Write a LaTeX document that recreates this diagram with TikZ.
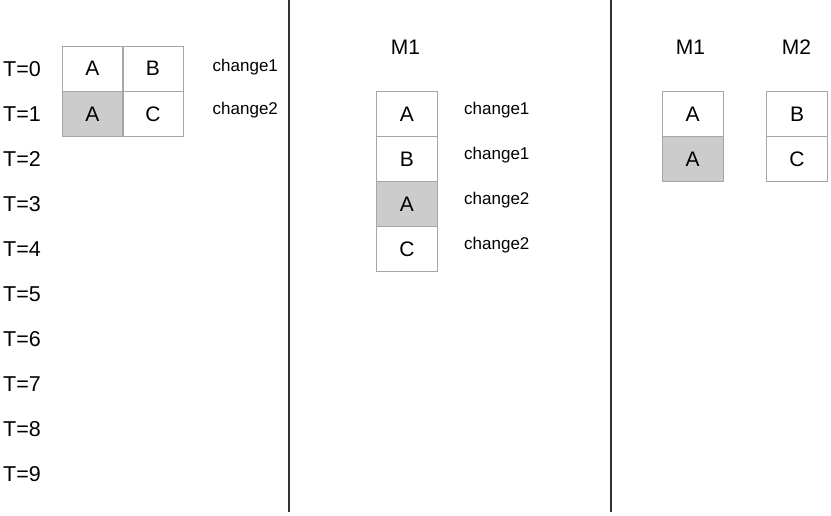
\documentclass[tikz,border=0pt]{standalone}
\usepackage{fontspec}
\setmainfont{Liberation Sans}
\begin{document}
\begin{tikzpicture}[x=1pt,y=-1pt,
  cell/.style={draw=black!35,line width=0.8pt,minimum width=61pt,minimum height=45pt,inner sep=0pt,outer sep=0pt,font=\fontsize{21}{25}\selectfont},
  shaded/.style={cell,fill=black!20},
  tlabel/.style={anchor=west,inner sep=0pt,font=\fontsize{21.5}{25}\selectfont},
  mlabel/.style={inner sep=0pt,font=\fontsize{21}{25}\selectfont},
  chlabel/.style={anchor=west,inner sep=0pt,font=\fontsize{17}{20}\selectfont},
  divider/.style={draw=black!80,line width=1.3pt}]
\useasboundingbox (0,0) rectangle (831,516);
% time labels
\foreach \i in {0,...,9}{
  \node[tlabel] (t\i) at (3,{69+45*\i}) {T=\i};
}
% left table
\node[cell] (la) at (92.5,68.5) {A};
\node[cell] (lb) at (153,68.5) {B};
\node[shaded] (la2) at (92.5,114) {A};
\node[cell] (lc) at (153,114) {C};
\node[chlabel] (lch1) at (212.5,67.5) {change1};
\node[chlabel] (lch2) at (212.5,110.5) {change2};
% dividers
\coordinate (d1t) at (289,0);
\coordinate (d1b) at (289,512);
\coordinate (d2t) at (611,0);
\coordinate (d2b) at (611,512);
\draw[divider] (d1t) -- (d1b);
\draw[divider] (d2t) -- (d2b);
% middle column
\node[mlabel] (mm1) at (405.5,47) {M1};
\node[cell] (ma) at (407,114.2) {A};
\node[cell] (mb) at (407,159.2) {B};
\node[shaded] (ma2) at (407,204.2) {A};
\node[cell] (mc) at (407,249.2) {C};
\node[chlabel] (mch1) at (464,110.5) {change1};
\node[chlabel] (mch2) at (464,155.5) {change1};
\node[chlabel] (mch3) at (464,200.5) {change2};
\node[chlabel] (mch4) at (464,245.5) {change2};
% right columns
\node[mlabel] (rm1) at (690.5,47) {M1};
\node[mlabel] (rm2) at (796.5,47) {M2};
\node[cell] (ra) at (692.5,114.2) {A};
\node[shaded] (ra2) at (692.5,159.2) {A};
\node[cell] (rb) at (797,114.2) {B};
\node[cell] (rc) at (797,159.2) {C};
\end{tikzpicture}
\end{document}
